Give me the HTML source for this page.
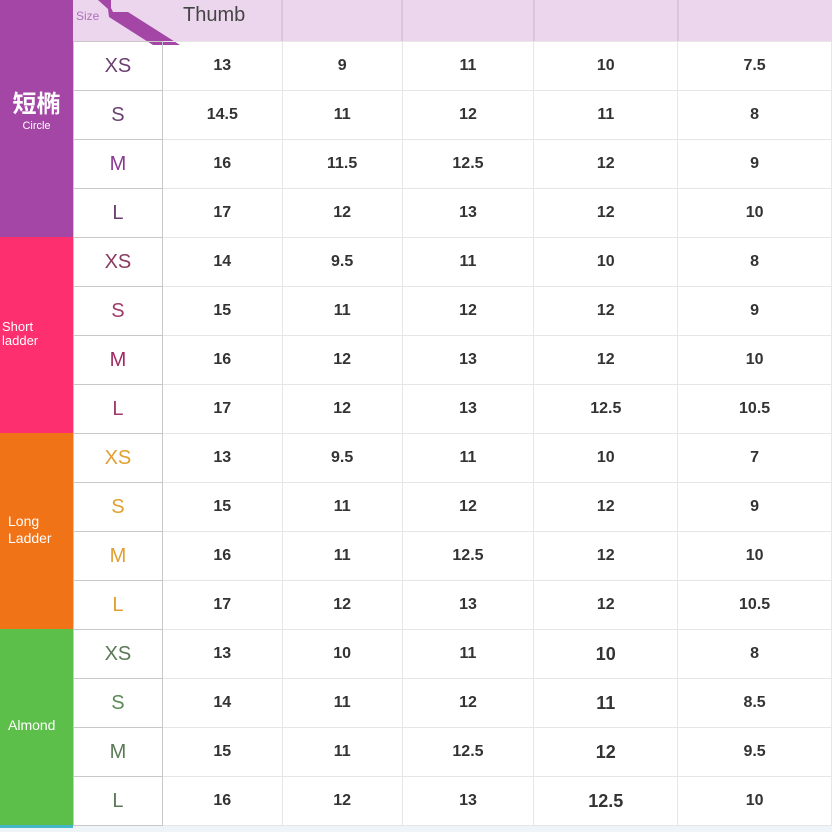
<!DOCTYPE html>
<html><head><meta charset="utf-8"><style>
*{margin:0;padding:0;box-sizing:border-box}
body{width:832px;height:832px;background:#fff;position:relative;overflow:hidden;font-family:"Liberation Sans","Noto Sans CJK SC",sans-serif}
.blk{position:absolute;left:0;width:73px;color:#fff}
.hdr{position:absolute;top:0;left:73px;width:759px;height:41px;background:#ecd6ee}
.vl{position:absolute;top:0;width:2px;height:41px;background:#dcc4e0}
table{position:absolute;top:41px;left:73px;border-collapse:collapse;table-layout:fixed}
td{height:49px;border:1px solid #e6e6e6;text-align:center;font-size:16px;font-weight:bold;color:#333}
td.s{font-weight:normal;font-size:20px;border-color:#c8c8c8}
</style></head><body>
<div class="blk" style="top:0;height:237px;background:#a346a6"></div>
<div class="blk" style="top:237px;height:196px;background:#fd2f6e"></div>
<div class="blk" style="top:433px;height:196px;background:#f07318"></div>
<div class="blk" style="top:629px;height:196px;background:#5bbf49"></div>
<div class="blk" style="top:825px;height:7px;left:0;width:832px;background:#eef4f7"></div>
<div class="blk" style="top:825px;height:3px;background:#43b6c8"></div>
<div class="blk" style="top:84px;text-align:center;font-size:24px;font-weight:bold">短椭</div>
<div class="blk" style="top:120px;text-align:center;font-size:11px">Circle</div>
<div class="blk" style="top:320px;left:2px;font-size:13px;line-height:14px">Short<br>ladder</div>
<div class="blk" style="top:513px;left:8px;font-size:14px;line-height:17px">Long<br>Ladder</div>
<div class="blk" style="top:717px;left:8px;font-size:14px">Almond</div>
<div class="hdr"></div>
<div class="vl" style="left:281px"></div><div class="vl" style="left:401px"></div><div class="vl" style="left:533px"></div><div class="vl" style="left:677px"></div>
<div style="position:absolute;top:9px;left:76px;font-size:12px;color:#b070b8">Size</div>
<div style="position:absolute;top:4px;left:183px;font-size:20px;color:#444">Thumb</div>
<svg style="position:absolute;left:73px;top:0" width="110" height="45"><polygon points="25,0 38,0 38,8 40,12 55,12 107,45 80,45 36,17 35,9" fill="#a346a6"/></svg>
<table>
<colgroup><col style="width:89px"><col style="width:120px"><col style="width:120px"><col style="width:132px"><col style="width:144px"><col style="width:154px"></colgroup>
<tr><td class="s" style="color:#6a4070">XS</td><td>13</td><td>9</td><td>11</td><td>10</td><td>7.5</td></tr>
<tr><td class="s" style="color:#6a4070">S</td><td>14.5</td><td>11</td><td>12</td><td>11</td><td>8</td></tr>
<tr><td class="s" style="color:#8a3a8e">M</td><td>16</td><td>11.5</td><td>12.5</td><td>12</td><td>9</td></tr>
<tr><td class="s" style="color:#6a4070">L</td><td>17</td><td>12</td><td>13</td><td>12</td><td>10</td></tr>
<tr><td class="s" style="color:#8a3a60">XS</td><td>14</td><td>9.5</td><td>11</td><td>10</td><td>8</td></tr>
<tr><td class="s" style="color:#a03a6a">S</td><td>15</td><td>11</td><td>12</td><td>12</td><td>9</td></tr>
<tr><td class="s" style="color:#a02a60">M</td><td>16</td><td>12</td><td>13</td><td>12</td><td>10</td></tr>
<tr><td class="s" style="color:#a03a6a">L</td><td>17</td><td>12</td><td>13</td><td>12.5</td><td>10.5</td></tr>
<tr><td class="s" style="color:#e0a030">XS</td><td>13</td><td>9.5</td><td>11</td><td>10</td><td>7</td></tr>
<tr><td class="s" style="color:#e0a030">S</td><td>15</td><td>11</td><td>12</td><td>12</td><td>9</td></tr>
<tr><td class="s" style="color:#e0a030">M</td><td>16</td><td>11</td><td>12.5</td><td>12</td><td>10</td></tr>
<tr><td class="s" style="color:#e0a030">L</td><td>17</td><td>12</td><td>13</td><td>12</td><td>10.5</td></tr>
<tr><td class="s" style="color:#5a7a55">XS</td><td>13</td><td>10</td><td>11</td><td style="font-size:18px">10</td><td>8</td></tr>
<tr><td class="s" style="color:#5a8a55">S</td><td>14</td><td>11</td><td>12</td><td style="font-size:18px">11</td><td>8.5</td></tr>
<tr><td class="s" style="color:#5a7a55">M</td><td>15</td><td>11</td><td>12.5</td><td style="font-size:18px">12</td><td>9.5</td></tr>
<tr><td class="s" style="color:#5a7a55">L</td><td>16</td><td>12</td><td>13</td><td style="font-size:18px">12.5</td><td>10</td></tr>
</table>
</body></html>
